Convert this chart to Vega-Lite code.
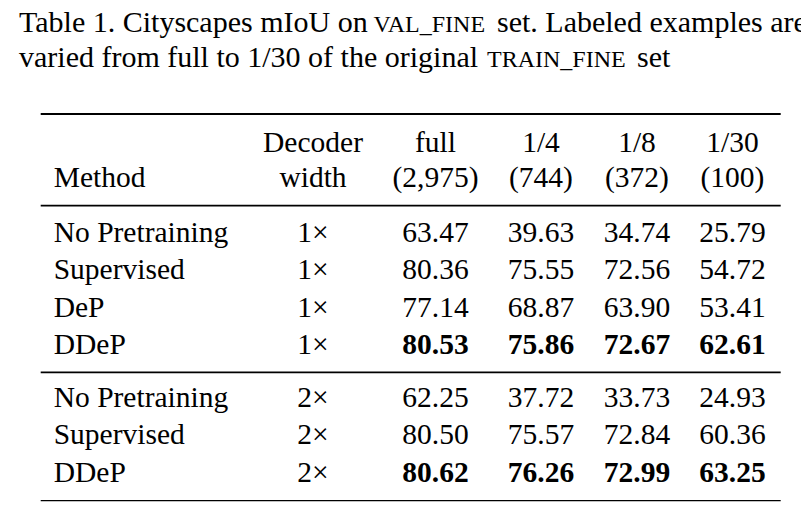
{
  "$schema": "https://vega.github.io/schema/vega-lite/v6.json",
  "width": 801,
  "height": 520,
  "padding": 0,
  "autosize": "none",
  "background": "white",
  "config": {
    "view": {"stroke": null},
    "text": {"font": "Liberation Serif", "fontSize": 29.5, "color": "black", "baseline": "alphabetic"}
  },
  "datasets": {
    "rules": [
      {"kind": "toprule", "line": 2, "col": 1, "col_end": 8},
      {"kind": "midrule", "line": 5, "col": 1, "col_end": 8},
      {"kind": "midrule", "line": 10, "col": 1, "col_end": 8},
      {"kind": "bottomrule", "line": 14, "col": 1, "col_end": 8}
    ],
    "caption": [
      {"line": 0, "col": 0, "seg": "start", "text": "Table 1. Cityscapes mIoU on"},
      {"line": 0, "col": 0, "seg": "sc1", "text": "VAL_FINE"},
      {"line": 0, "col": 0, "seg": "end1", "text": "set. Labeled examples are"},
      {"line": 1, "col": 0, "seg": "start", "text": "varied from full to 1/30 of the original"},
      {"line": 1, "col": 0, "seg": "sc2", "text": "TRAIN_FINE"},
      {"line": 1, "col": 0, "seg": "end2", "text": "set"}
    ],
    "cells": [
      {"line": 4, "col": 2, "text": "Method", "bold": false},
      {"line": 3, "col": 3, "text": "Decoder", "bold": false},
      {"line": 4, "col": 3, "text": "width", "bold": false},
      {"line": 3, "col": 4, "text": "full", "bold": false},
      {"line": 4, "col": 4, "text": "(2,975)", "bold": false},
      {"line": 3, "col": 5, "text": "1/4", "bold": false},
      {"line": 4, "col": 5, "text": "(744)", "bold": false},
      {"line": 3, "col": 6, "text": "1/8", "bold": false},
      {"line": 4, "col": 6, "text": "(372)", "bold": false},
      {"line": 3, "col": 7, "text": "1/30", "bold": false},
      {"line": 4, "col": 7, "text": "(100)", "bold": false},

      {"line": 6, "col": 2, "text": "No Pretraining", "bold": false},
      {"line": 6, "col": 3, "text": "1×", "bold": false},
      {"line": 6, "col": 4, "text": "63.47", "bold": false},
      {"line": 6, "col": 5, "text": "39.63", "bold": false},
      {"line": 6, "col": 6, "text": "34.74", "bold": false},
      {"line": 6, "col": 7, "text": "25.79", "bold": false},

      {"line": 7, "col": 2, "text": "Supervised", "bold": false},
      {"line": 7, "col": 3, "text": "1×", "bold": false},
      {"line": 7, "col": 4, "text": "80.36", "bold": false},
      {"line": 7, "col": 5, "text": "75.55", "bold": false},
      {"line": 7, "col": 6, "text": "72.56", "bold": false},
      {"line": 7, "col": 7, "text": "54.72", "bold": false},

      {"line": 8, "col": 2, "text": "DeP", "bold": false},
      {"line": 8, "col": 3, "text": "1×", "bold": false},
      {"line": 8, "col": 4, "text": "77.14", "bold": false},
      {"line": 8, "col": 5, "text": "68.87", "bold": false},
      {"line": 8, "col": 6, "text": "63.90", "bold": false},
      {"line": 8, "col": 7, "text": "53.41", "bold": false},

      {"line": 9, "col": 2, "text": "DDeP", "bold": false},
      {"line": 9, "col": 3, "text": "1×", "bold": false},
      {"line": 9, "col": 4, "text": "80.53", "bold": true},
      {"line": 9, "col": 5, "text": "75.86", "bold": true},
      {"line": 9, "col": 6, "text": "72.67", "bold": true},
      {"line": 9, "col": 7, "text": "62.61", "bold": true},

      {"line": 11, "col": 2, "text": "No Pretraining", "bold": false},
      {"line": 11, "col": 3, "text": "2×", "bold": false},
      {"line": 11, "col": 4, "text": "62.25", "bold": false},
      {"line": 11, "col": 5, "text": "37.72", "bold": false},
      {"line": 11, "col": 6, "text": "33.73", "bold": false},
      {"line": 11, "col": 7, "text": "24.93", "bold": false},

      {"line": 12, "col": 2, "text": "Supervised", "bold": false},
      {"line": 12, "col": 3, "text": "2×", "bold": false},
      {"line": 12, "col": 4, "text": "80.50", "bold": false},
      {"line": 12, "col": 5, "text": "75.57", "bold": false},
      {"line": 12, "col": 6, "text": "72.84", "bold": false},
      {"line": 12, "col": 7, "text": "60.36", "bold": false},

      {"line": 13, "col": 2, "text": "DDeP", "bold": false},
      {"line": 13, "col": 3, "text": "2×", "bold": false},
      {"line": 13, "col": 4, "text": "80.62", "bold": true},
      {"line": 13, "col": 5, "text": "76.26", "bold": true},
      {"line": 13, "col": 6, "text": "72.99", "bold": true},
      {"line": 13, "col": 7, "text": "63.25", "bold": true}
    ]
  },
  "encoding": {
    "x": {
      "field": "col",
      "type": "quantitative",
      "axis": null,
      "scale": {
        "domain": [0, 1, 2, 3, 4, 5, 6, 7, 8],
        "range": [19, 40.7, 53.7, 313, 435.5, 541, 637, 732.5, 780.7],
        "nice": false, "zero": false, "clamp": false
      }
    },
    "y": {
      "field": "line",
      "type": "quantitative",
      "axis": null,
      "scale": {
        "domain": [0, 1, 2, 3, 4, 5, 6, 7, 8, 9, 10, 11, 12, 13, 14],
        "range": [32, 66.7, 114, 151.5, 187, 205.7, 241.7, 279, 316.5, 354, 372.3, 406.7, 444, 481.5, 500.7],
        "nice": false, "zero": false, "clamp": false
      }
    }
  },
  "layer": [
    {
      "data": {"name": "rules"},
      "mark": {"type": "rule", "color": "black"},
      "encoding": {
        "x2": {"field": "col_end"},
        "strokeWidth": {
          "field": "kind", "type": "nominal", "legend": null,
          "scale": {"domain": ["toprule", "midrule", "bottomrule"], "range": [2.2, 1.3, 2.2]}
        }
      }
    },
    {
      "data": {"name": "caption"},
      "transform": [{"filter": "datum.seg == 'start'"}],
      "mark": {"type": "text", "align": "left", "fontSize": 30},
      "encoding": {"text": {"field": "text"}}
    },
    {
      "data": {"name": "caption"},
      "transform": [{"filter": "datum.seg == 'sc1'"}],
      "mark": {"type": "text", "align": "left", "fontSize": 24, "dx": 354.5},
      "encoding": {"text": {"field": "text"}}
    },
    {
      "data": {"name": "caption"},
      "transform": [{"filter": "datum.seg == 'end1'"}],
      "mark": {"type": "text", "align": "left", "fontSize": 30, "dx": 478},
      "encoding": {"text": {"field": "text"}}
    },
    {
      "data": {"name": "caption"},
      "transform": [{"filter": "datum.seg == 'sc2'"}],
      "mark": {"type": "text", "align": "left", "fontSize": 24, "dx": 468},
      "encoding": {"text": {"field": "text"}}
    },
    {
      "data": {"name": "caption"},
      "transform": [{"filter": "datum.seg == 'end2'"}],
      "mark": {"type": "text", "align": "left", "fontSize": 30, "dx": 618},
      "encoding": {"text": {"field": "text"}}
    },
    {
      "data": {"name": "cells"},
      "transform": [{"filter": "datum.col == 2"}],
      "mark": {"type": "text", "align": "left"},
      "encoding": {"text": {"field": "text"}}
    },
    {
      "data": {"name": "cells"},
      "transform": [{"filter": "datum.col != 2 && !datum.bold"}],
      "mark": {"type": "text", "align": "center"},
      "encoding": {"text": {"field": "text"}}
    },
    {
      "data": {"name": "cells"},
      "transform": [{"filter": "datum.col != 2 && datum.bold"}],
      "mark": {"type": "text", "align": "center", "fontWeight": "bold"},
      "encoding": {"text": {"field": "text"}}
    }
  ]
}
